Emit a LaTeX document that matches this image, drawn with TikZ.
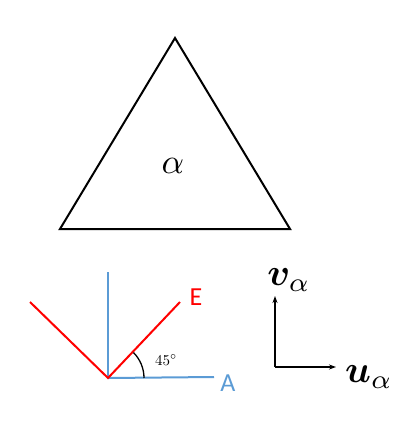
\documentclass[tikz,border=0pt]{standalone}
\usepackage{fontspec}
\usepackage{amsmath,bm}
\newfontfamily\calib{Carlito}
\usetikzlibrary{arrows.meta}
\definecolor{ablue}{RGB}{91,155,213}
\definecolor{ered}{RGB}{255,0,0}
\begin{document}
\begin{tikzpicture}[x=1pt,y=-1pt,
  tri/.style={draw=black,line width=2pt,line join=miter},
  bline/.style={draw=ablue,line width=2pt},
  rline/.style={draw=ered,line width=2pt},
  axarrow/.style={draw=black,line width=1.6pt,-{Stealth[length=7pt,width=5pt]}},
  lbl/.style={inner sep=0pt}]
\useasboundingbox (0,0) rectangle (417,436);
% triangle
\coordinate (t1) at (175,38);
\coordinate (t2) at (60,229);
\coordinate (t3) at (290,229);
\draw[tri] (t1) -- (t2) -- (t3) -- cycle;
\node[lbl,scale=3.5] (alpha) at (173,166) {$\alpha$};
% angle figure
\coordinate (o) at (108,378);
\coordinate (bt) at (108,272);
\coordinate (br) at (214,377);
\coordinate (rl) at (30,302);
\coordinate (rr) at (180,302);
\draw[bline] (o) -- (bt);
\draw[bline] (o) -- (br);
\draw[rline] (rl) -- (o) -- (rr);
\draw[black,line width=1.3pt] ([shift={(0:36)}]o) arc[start angle=0,end angle=-45,radius=36];
\node[lbl,scale=1.5] (ang) at (166,360) {45$^\circ$};
\node[lbl,text=ered] (E) at (196,297) {\calib\fontsize{26}{28}\selectfont E};
\node[lbl,text=ablue] (A) at (228,383) {\calib\fontsize{26}{28}\selectfont A};
% axes
\coordinate (ax) at (275,367);
\coordinate (ay) at (275,296);
\coordinate (axr) at (336,367);
\draw[axarrow] (ax) -- (ay);
\draw[axarrow] (ax) -- (axr);
\node[lbl,scale=3.8] (v) at (289,280) {$\bm{v}_\alpha$};
\node[lbl,scale=3.8] (u) at (369,377) {$\bm{u}_\alpha$};
\end{tikzpicture}
\end{document}
